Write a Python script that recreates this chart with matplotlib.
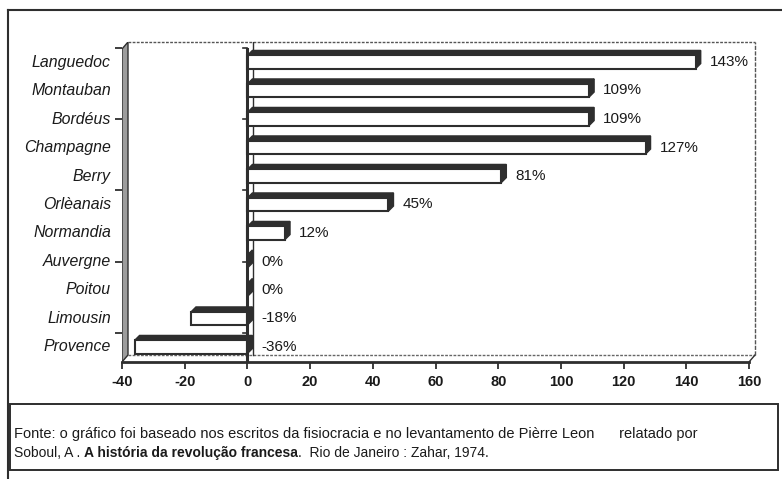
import matplotlib
matplotlib.use("Agg")
import matplotlib.pyplot as plt
from matplotlib.patches import Rectangle, Polygon
from matplotlib.lines import Line2D
import matplotlib.transforms as mtransforms

# dados
regioes = ['Languedoc', 'Montauban', 'Bordéus', 'Champagne', 'Berry', 'Orlèanais',
           'Normandia', 'Auvergne', 'Poitou', 'Limousin', 'Provence']
valores = [143, 109, 109, 127, 81, 45, 12, 0, 0, -18, -36]
rotulos = ['143%', '109%', '109%', '127%', '81%', '45%', '12%', '0%', '0%', '-18%', '-36%']
xticks = [-40, -20, 0, 20, 40, 60, 80, 100, 120, 140, 160]
yticks_cat = [-0.5, 2, 4.5, 7, 9.5]

fonte_l1 = 'Fonte: o gráfico foi baseado nos escritos da fisiocracia e no levantamento de Pièrre Leon      relatado por'
fonte_l2 = [('Soboul, A . ', 'normal'), ('A história da revolução francesa', 'bold'),
            ('.  Rio de Janeiro : Zahar, 1974.', 'normal')]

W, H = 782, 479
escuro = '#2e2e2e'
cinza = '#9c9c9c'
texto = '#1a1a1a'

plt.rcParams['font.family'] = ['Liberation Sans', 'DejaVu Sans']

fig = plt.figure(figsize=(W / 100, H / 100), dpi=100)


def fx(px):
    return px / W


def fy(py):
    return 1 - py / H


# moldura externa
fig.add_artist(Line2D([fx(8), fx(8)], [fy(10), 0], color=escuro, lw=1.5))
fig.add_artist(Line2D([fx(8), 1], [fy(10), fy(10)], color=escuro, lw=1.5))

# eixo: frente -40 -> 122px, 160 -> 749px ; fundo até 757px
px_unit = (749 - 122) / 200.0
cat_px = 28.5
c0_px = 62
y_top_px, y_bot_px = 42, 362
ax = fig.add_axes([fx(122), fy(y_bot_px), (757 - 122) / W, (y_bot_px - y_top_px) / H])
xmax = 160 + (757 - 749) / px_unit
ytop = (y_top_px - c0_px) / cat_px
ybot = (y_bot_px - c0_px) / cat_px
ax.set_xlim(-40, xmax)
ax.set_ylim(ybot, ytop)
for s in ax.spines.values():
    s.set_visible(False)

# profundidade
dxw = 6 / px_unit
dyw = 7 / cat_px
dxb = 5 / px_unit
dyb = 5 / cat_px
ytop_front = ytop + dyw

# parede esquerda
ax.add_patch(Polygon([(-40, ybot), (-40, ytop_front), (-40 + dxw, ytop), (-40 + dxw, ybot - dyw)],
                     closed=True, facecolor=cinza, edgecolor=escuro, lw=1, zorder=1))
# chão e fundo
ax.plot([-40, 160], [ybot, ybot], color=escuro, lw=2, zorder=2, clip_on=False)
ax.plot([-40 + dxw, 160 + dxw], [ybot - dyw, ybot - dyw], color='#666666', lw=1, ls=(0, (2, 1)), zorder=1)
ax.plot([160, 160 + dxw], [ybot, ybot - dyw], color=escuro, lw=1, zorder=1)
ax.plot([160 + dxw, 160 + dxw], [ybot - dyw, ytop], color='#555555', lw=1, ls=(0, (3, 1)), zorder=1, clip_on=False)
ax.plot([-40 + dxw, 160 + dxw], [ytop, ytop], color='#555555', lw=1, ls=(0, (2, 1)), zorder=1, clip_on=False)

# barras 3D
h = 0.46
for i, v in enumerate(valores):
    topo = i - h / 2
    base = i + h / 2
    if v != 0:
        ax.add_patch(Polygon([(min(v, 0), topo), (max(v, 0), topo), (max(v, 0) + dxb, topo - dyb),
                              (min(v, 0) + dxb, topo - dyb)], closed=True,
                             facecolor=escuro, edgecolor=escuro, lw=1, zorder=3))
        ax.add_patch(Rectangle((min(v, 0), topo), abs(v), h, facecolor='white',
                               edgecolor=escuro, lw=1.5, zorder=4))
    fim = max(v, 0)
    ax.add_patch(Polygon([(fim, topo), (fim, base), (fim + dxb, base - dyb), (fim + dxb, topo - dyb)],
                         closed=True, facecolor=escuro, edgecolor=escuro, lw=1, zorder=3))
    ax.text(max(v, 0) + 4.5, i, rotulos[i], ha='left', va='center', fontsize=11,
            color=texto, zorder=6)

# plano do zero
ax.plot([0, 0], [ybot, ytop_front], color=escuro, lw=2.2, zorder=5)
ax.plot([dxw, dxw], [ybot - dyw, ytop], color=escuro, lw=1, zorder=2)
for c in yticks_cat:
    ax.plot([-1.4, 0], [c, c], color=escuro, lw=1.2, zorder=5)

# eixos
ax.set_xticks(xticks)
ax.set_xticklabels([str(t) for t in xticks], fontsize=10.5, fontweight='bold', color=texto)
ax.set_yticks(yticks_cat)
ax.set_yticklabels([])
ax.tick_params(axis='x', direction='out', length=5, width=1.3, color=escuro, pad=4)
ax.tick_params(axis='y', direction='out', length=5, width=1.3, color=escuro)

trans = mtransforms.blended_transform_factory(ax.transAxes, ax.transData)
for i, r in enumerate(regioes):
    ax.text(-11 / (757 - 122), i, r, transform=trans, ha='right', va='center',
            fontsize=11.4, style='italic', color=texto)

# caixa da fonte
fig.add_artist(Rectangle((fx(10), fy(470)), fx(778) - fx(10), fy(404) - fy(470),
                         fill=False, edgecolor=escuro, lw=1.4))
fam = ['Liberation Sans', 'DejaVu Sans']
fig.text(fx(14), fy(438), fonte_l1, fontsize=10.5, family=fam, va='baseline', color=texto)
fig.canvas.draw()
renderer = fig.canvas.get_renderer()
x = fx(14)
for txt, peso in fonte_l2:
    t = fig.text(x, fy(457), txt, fontsize=10, family=fam, fontweight=peso,
                 va='baseline', color=texto)
    bb = t.get_window_extent(renderer=renderer)
    x = bb.x1 / W

fig.savefig('out.png', dpi=100)
